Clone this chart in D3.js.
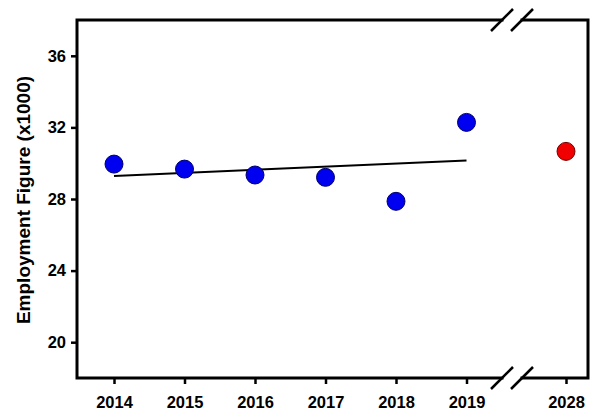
<!DOCTYPE html>
<html>
<head>
<meta charset="utf-8">
<script src="https://cdn.jsdelivr.net/npm/d3@7"></script>
<style>
  html, body { margin: 0; padding: 0; background: #fff; }
  svg { display: block; }
  text { font-family: "Liberation Sans", Arial, sans-serif; font-weight: bold; fill: #000; }
</style>
</head>
<body>
<svg id="chart" width="597" height="412"></svg>
<script>
// Data
const years = [2014, 2015, 2016, 2017, 2018, 2019];
const employment = [29.95, 29.67, 29.34, 29.21, 27.87, 32.28];
const projectedYears = [2028];
const projected = [30.66];
const xTickLabels = ["2014", "2015", "2016", "2017", "2018", "2019", "2028"];
const yTicks = [20, 24, 28, 32, 36];
const yTitle = "Employment Figure (x1000)";

(function () {
const svg = d3.select("#chart");
const mLeft = 77, mRight = 588, mTop = 20, mBottom = 378;

const x = d3.scaleLinear().domain([2014, 2019, 2028]).range([114, 466.5, 566]);
const y = d3.scaleLinear().domain([18, 38]).range([mBottom, mTop]);

// Y axis
const yAxis = svg.append("g").attr("transform", `translate(${mLeft},0)`)
  .call(d3.axisLeft(y).tickValues(yTicks).tickSize(6).tickPadding(5).tickFormat(d3.format("d")));
yAxis.select(".domain").remove();
yAxis.selectAll(".tick line").attr("stroke", "#000").attr("stroke-width", 2.5);
yAxis.selectAll(".tick text").style("font-size", "16.5px");

// X axis
const xAxis = svg.append("g").attr("transform", `translate(0,${mBottom})`)
  .call(d3.axisBottom(x).tickValues(years.concat(projectedYears)).tickSize(6).tickPadding(12)
    .tickFormat((d, i) => xTickLabels[i]));
xAxis.select(".domain").remove();
xAxis.selectAll(".tick line").attr("stroke", "#000").attr("stroke-width", 2.5);
xAxis.selectAll(".tick text").style("font-size", "16.5px");

// Frame with breaks
const b1 = 502, b2 = 522;
const frame = svg.append("g").attr("fill", "none").attr("stroke", "#000").attr("stroke-width", 3)
  .attr("stroke-linecap", "square");
frame.append("path").attr("d", `M${b1},${mTop}H${mLeft}V${mBottom}H${b1}`);
frame.append("path").attr("d", `M${b2},${mTop}H${mRight}V${mBottom}H${b2}`);
const slashes = svg.append("g").attr("stroke", "#000").attr("stroke-width", 2.5);
[mTop, mBottom].forEach(yy => {
  [b1, b2].forEach(xx => {
    slashes.append("line").attr("x1", xx - 11).attr("y1", yy + 11).attr("x2", xx + 11).attr("y2", yy - 11);
  });
});

// Linear regression over observed years
const xm = d3.mean(years), ym = d3.mean(employment);
const slope = d3.sum(years, (d, i) => (d - xm) * (employment[i] - ym)) / d3.sum(years, d => (d - xm) ** 2);
const intercept = ym - slope * xm;
const fitEnds = [years[0], years[years.length - 1]];
svg.append("path")
  .attr("d", d3.line().x(d => x(d)).y(d => y(intercept + slope * d))(fitEnds))
  .attr("stroke", "#000").attr("stroke-width", 2).attr("fill", "none");

// Points
svg.append("g").selectAll("circle").data(years).join("circle")
  .attr("cx", d => x(d)).attr("cy", (d, i) => y(employment[i])).attr("r", 9)
  .attr("fill", "#0000f0").attr("stroke", "#00006a").attr("stroke-width", 1);
svg.append("g").selectAll("circle").data(projectedYears).join("circle")
  .attr("cx", d => x(d)).attr("cy", (d, i) => y(projected[i])).attr("r", 9)
  .attr("fill", "#f00000").attr("stroke", "#700000").attr("stroke-width", 1);

// Y title
svg.append("text")
  .attr("transform", `translate(30,200) rotate(-90)`)
  .attr("text-anchor", "middle")
  .style("font-size", "19px")
  .text(yTitle);
})();
</script>
</body>
</html>
